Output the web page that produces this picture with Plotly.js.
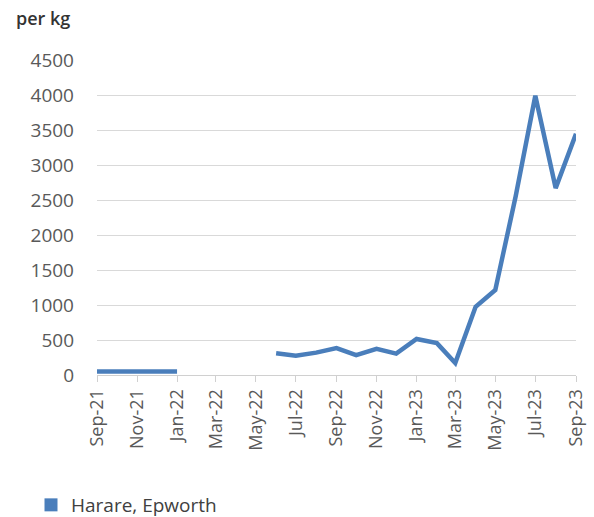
<!DOCTYPE html>
<html>
<head>
<meta charset="utf-8">
<script src="https://cdn.plot.ly/plotly-3.0.1.min.js"></script>
<style>html,body{margin:0;padding:0;background:#fff;}#chart{width:594px;height:517px;}</style>
</head>
<body>
<div id="chart"></div>
<script>
const months = ["2021-09-01","2021-10-01","2021-11-01","2021-12-01","2022-01-01","2022-02-01","2022-03-01","2022-04-01","2022-05-01","2022-06-01","2022-07-01","2022-08-01","2022-09-01","2022-10-01","2022-11-01","2022-12-01","2023-01-01","2023-02-01","2023-03-01","2023-04-01","2023-05-01","2023-06-01","2023-07-01","2023-08-01","2023-09-01"];
const hararePrice = [50,50,50,50,50,null,null,null,null,310,275,320,385,285,375,305,515,455,170,975,1215,2550,3990,2670,3445];
const seriesName = "Harare, Epworth";
const yTicks = [0,500,1000,1500,2000,2500,3000,3500,4000,4500];

const lineColor = "#4a7ebb";
const traces = [
  {x: months, y: hararePrice, type: "scatter", mode: "lines", connectgaps: false,
   line: {color: lineColor, width: 4.5}, showlegend: false, name: seriesName},
  {x: [null], y: [null], type: "scatter", mode: "markers",
   marker: {symbol: "square", size: 13, color: lineColor}, name: seriesName, showlegend: true}
];
const layout = {
  width: 594, height: 517,
  margin: {l: 97, r: 18, t: 60, b: 142},
  paper_bgcolor: "#fff", plot_bgcolor: "#fff",
  font: {family: "Open Sans, sans-serif", color: "#595959"},
  title: {text: "per kg", xref: "container", yref: "container", x: 16/594, xanchor: "left",
          y: 1 - 19/517, yanchor: "middle", font: {size: 18, color: "#333", weight: 600}},
  xaxis: {type: "date", range: ["2021-09-01","2023-09-01"], tick0: "2021-09-01", dtick: "M2",
          tickformat: "%b-%y", tickangle: -90, tickfont: {size: 18, color: "#595959"},
          showgrid: false, showline: true, linecolor: "#d0d0d0", linewidth: 1, automargin: false,
          ticks: "outside", ticklen: 6, tickcolor: "#d0d0d0", zeroline: false, fixedrange: true},
  yaxis: {range: [0, 4500], tickvals: yTicks, ticktext: yTicks.map(String), automargin: false,
          tickfont: {size: 19, color: "#595959"}, showgrid: true, gridcolor: "#d9d9d9", gridwidth: 1,
          zeroline: false, showline: false, ticks: "", ticklabelstandoff: 22, fixedrange: true},
  showlegend: true,
  legend: {orientation: "h", xref: "container", yref: "container", x: 31/594, xanchor: "left",
           y: 1 - 505/517, yanchor: "middle",
           font: {size: 19, color: "#404040"}, bgcolor: "rgba(0,0,0,0)"}
};
Plotly.newPlot("chart", traces, layout, {displayModeBar: false, staticPlot: true});
</script>
</body>
</html>
